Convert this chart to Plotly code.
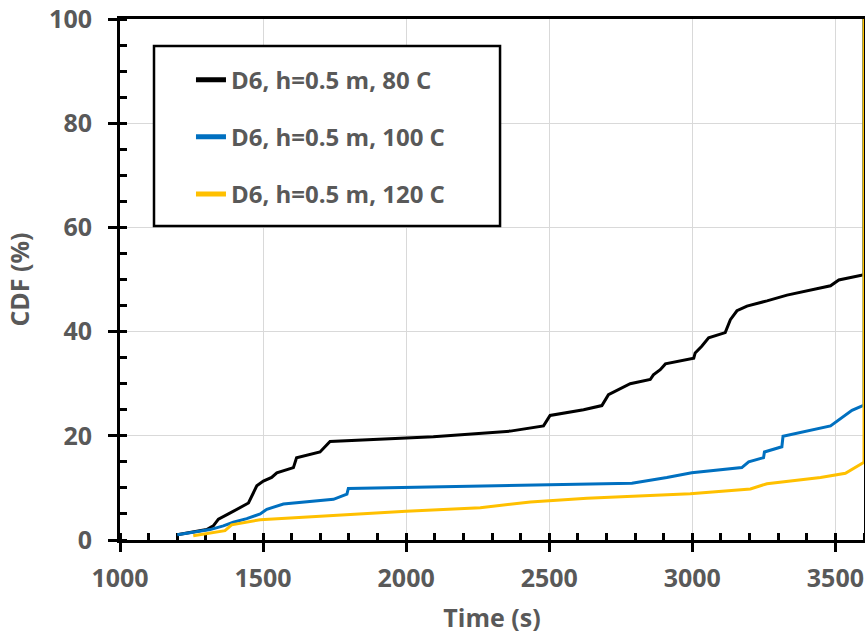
import plotly.graph_objects as go

# Cumulative distribution of ignition time for case D6, h = 0.5 m
time_80c = [1200, 1303, 1326, 1344, 1379, 1408, 1449, 1478, 1501, 1530, 1548, 1606, 1617,
            1699, 1734, 2095, 2364, 2480, 2503, 2620, 2684, 2707, 2783, 2853, 2864, 2888,
            2906, 3005, 3010, 3033, 3057, 3115, 3133, 3156, 3191, 3261, 3331, 3483, 3512,
            3600, 3600]
cdf_80c = [1.0, 2.0, 2.7, 4.0, 5.0, 5.9, 7.1, 10.4, 11.3, 12.0, 12.9, 13.9, 15.8,
           16.9, 18.9, 19.8, 20.9, 21.9, 23.9, 25.0, 25.8, 27.9, 30.0, 30.8, 31.7, 32.7,
           33.8, 34.9, 35.9, 37.2, 38.8, 39.8, 42.3, 44.0, 44.9, 45.9, 47.0, 48.8, 49.9,
           50.9, 100.0]

time_100c = [1200, 1315, 1361, 1396, 1443, 1490, 1513, 1571, 1746, 1793, 1798, 2789, 2911,
             2998, 3173, 3197, 3249, 3252, 3313, 3317, 3483, 3558, 3600, 3600]
cdf_100c = [1.0, 2.0, 2.7, 3.4, 4.1, 5.0, 5.9, 6.9, 7.8, 8.8, 9.9, 10.9, 12.0,
            12.9, 13.9, 15.0, 15.8, 16.9, 17.9, 19.9, 21.9, 24.9, 25.9, 100.0]

time_120c = [1256, 1367, 1390, 1443, 1490, 2000, 2259, 2434, 2632, 2993, 3203, 3261, 3448,
             3535, 3600, 3600]
cdf_120c = [0.8, 1.8, 2.9, 3.5, 3.9, 5.5, 6.2, 7.3, 8.0, 8.9, 9.8, 10.8, 12.0,
            12.8, 14.9, 100.0]

series_names = ["D6, h=0.5 m, 80 C", "D6, h=0.5 m, 100 C", "D6, h=0.5 m, 120 C"]
series_colors = ["#000000", "#0070C0", "#FFC000"]

FONT = "'Open Sans', Lato, 'DejaVu Sans', sans-serif"
GREY = "#595959"

fig = go.Figure()
for name, t, c, color in zip(series_names,
                             [time_80c, time_100c, time_120c],
                             [cdf_80c, cdf_100c, cdf_120c],
                             series_colors):
    fig.add_trace(go.Scatter(
        x=t, y=c, mode="lines", name=name, legendgroup=name,
        line=dict(color=color, width=3),
        cliponaxis=False,
    ))

tick_font = dict(family=FONT, size=25, color=GREY, weight="bold")
title_font = dict(family=FONT, size=25, color=GREY, weight="bold")

common = dict(
    showline=True, linecolor="black", linewidth=3, mirror=True,
    showgrid=True, gridcolor="#d9d9d9", gridwidth=1,
    zeroline=False, ticks="outside", ticklen=9, tickwidth=3, tickcolor="black",
    tickfont=tick_font, layer="below traces", automargin=False,
)

fig.update_xaxes(
    range=[1000, 3600], tick0=1000, dtick=500,
    minor=dict(ticks="inside", dtick=100, tick0=1000, ticklen=7, tickwidth=2.5,
               tickcolor="black", showgrid=False),
    title=dict(text="Time (s)", font=title_font, standoff=17),
    ticklabelstandoff=5,
    **common,
)
fig.update_yaxes(
    range=[0, 100], tick0=0, dtick=20,
    minor=dict(ticks="inside", dtick=5, tick0=0, ticklen=7, tickwidth=2.5,
               tickcolor="black", showgrid=False),
    title=dict(text="CDF (%)", font=title_font, standoff=13),
    ticklabelstandoff=11,
    **common,
)

# Inner half of the major ticks, so they cross the axis lines
fig.update_layout(
    xaxis2=dict(overlaying="x", matches="x", anchor="y", side="bottom",
                tick0=1000, dtick=500, ticks="inside", ticklen=8, tickwidth=3,
                tickcolor="black", showticklabels=False, showgrid=False,
                showline=False, zeroline=False, layer="below traces"),
    yaxis2=dict(overlaying="y", matches="y", anchor="x", side="left",
                tick0=0, dtick=20, ticks="inside", ticklen=8, tickwidth=3,
                tickcolor="black", showticklabels=False, showgrid=False,
                showline=False, zeroline=False, layer="below traces"),
)

# Legend frame
fig.add_shape(type="rect", xref="paper", yref="paper",
              x0=0.0457, x1=0.5108, y0=0.6027, y1=0.948,
              line=dict(color="black", width=2.5), fillcolor="white", layer="above")

fig.update_layout(
    width=865, height=641,
    margin=dict(l=120, r=1, t=19, b=101),
    paper_bgcolor="white", plot_bgcolor="white",
    showlegend=True,
    legend=dict(x=0.0954, y=0.926, xanchor="left", yanchor="top",
                bgcolor="rgba(0,0,0,0)", borderwidth=0,
                font=dict(family=FONT, size=24, color=GREY, weight="bold"),
                tracegroupgap=23, itemsizing="constant"),
)

fig.write_html("out.html")
